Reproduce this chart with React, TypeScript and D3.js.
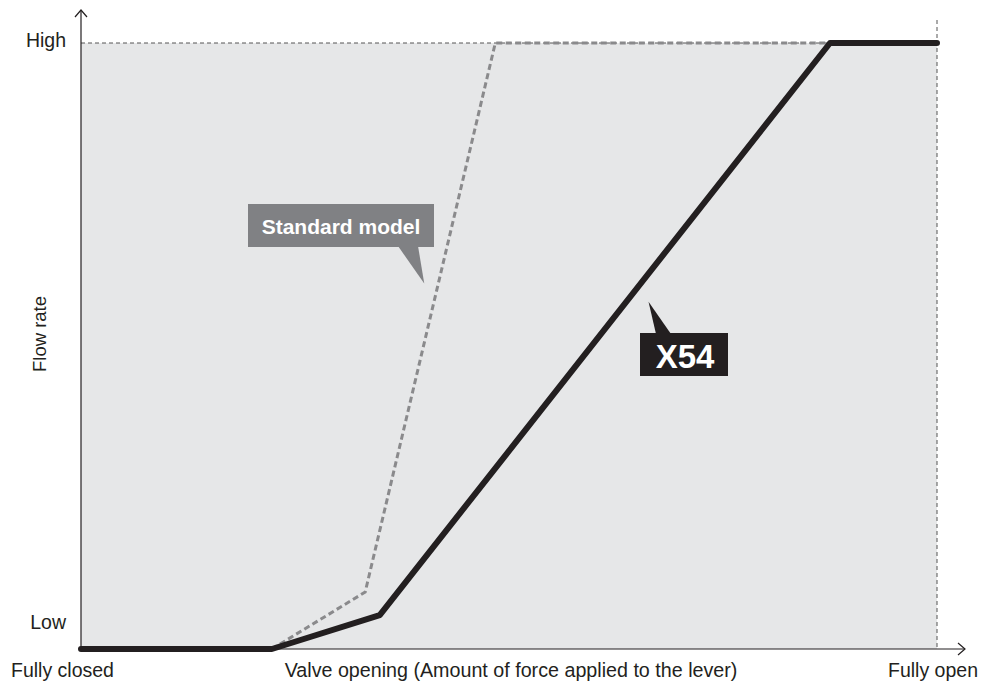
import * as React from 'react';
import {scaleLinear, line as d3Line} from 'd3';

// valve opening (0-100) vs flow rate (0-100)
const x54Opening = [0, 22.3, 34.9, 87.5, 100];
const x54Flow = [0, 0, 5.6, 100, 100];
const standardOpening = [22.3, 33.2, 48.4, 87.5];
const standardFlow = [0, 9.4, 100, 100];
const yTickLabels = ['Low', 'High'];
const yTickValues = [4.5, 100.5];
const xLabels = ['Fully closed', 'Valve opening (Amount of force applied to the lever)', 'Fully open'];

const W = 981;
const H = 684;
const margins = {left: 81, right: 44, top: 43, bottom: 35};
const font = '"Liberation Sans", Arial, sans-serif';
const ink = '#231f20';

export default function App() {
  const plotRight = W - margins.right;
  const plotBottom = H - margins.bottom;
  const x = scaleLinear().domain([0, 100]).range([margins.left, plotRight]);
  const y = scaleLinear().domain([0, 100]).range([plotBottom, margins.top]);

  const valueline = d3Line<[number, number]>()
    .x((d) => x(d[0]))
    .y((d) => y(d[1]));

  const x54 = x54Opening.map((o, i) => [o, x54Flow[i]] as [number, number]);
  const standard = standardOpening.map((o, i) => [o, standardFlow[i]] as [number, number]);

  // callout anchors, taken from points on each curve
  const stdTip: [number, number] = [x(40.1), y(60.3)];
  const xTip: [number, number] = [x(66.3), y(57.3)];

  return (
    <svg width={W} height={H} style={{position: 'absolute', left: 0, top: 0}} fontFamily={font}>
      <rect x={x(0)} y={y(100)} width={x(100) - x(0)} height={y(0) - y(100)} fill="#e6e7e8" />
      {/* reference lines */}
      <line x1={x(0)} x2={x(100)} y1={y(100)} y2={y(100)} stroke="#555" strokeWidth={1} strokeDasharray="4,3" />
      <line x1={x(100)} x2={x(100)} y1={20} y2={y(0)} stroke="#555" strokeWidth={1} strokeDasharray="4,3" />

      {/* axes */}
      <line x1={x(0)} x2={x(0)} y1={y(0)} y2={10} stroke={ink} strokeWidth={1.2} />
      <path d={`M${x(0) - 6},${17} L${x(0)},${10} L${x(0) + 6},${17}`} fill="none" stroke={ink} strokeWidth={1.2} />
      <line x1={x(0)} x2={965} y1={y(0)} y2={y(0)} stroke={ink} strokeWidth={1.2} />
      <path d={`M${958},${y(0) - 6} L${965},${y(0)} L${958},${y(0) + 6}`} fill="none" stroke={ink} strokeWidth={1.2} />

      <path d={valueline(standard) || ''} fill="none" stroke="#8a8a8c" strokeWidth={3} strokeDasharray="6,3.5" />
      <path d={valueline(x54) || ''} fill="none" stroke="#231f20" strokeWidth={6} strokeLinecap="round" strokeLinejoin="round" />

      {yTickLabels.map((t, i) => (
        <text key={t} x={66} y={y(yTickValues[i]) + 7} textAnchor="end" fontSize={19.5} fill={ink}>{t}</text>
      ))}
      <text transform={`translate(39, 334) rotate(-90)`} textAnchor="middle" dominantBaseline="central" fontSize={18.5} fill={ink}>Flow rate</text>

      <text x={11} y={677} fontSize={19.5} fill={ink}>{xLabels[0]}</text>
      <text x={511} y={677} textAnchor="middle" fontSize={19.7} fill={ink}>{xLabels[1]}</text>
      <text x={978} y={677} textAnchor="end" fontSize={19.5} fill={ink}>{xLabels[2]}</text>

      {/* Standard model callout */}
      <path d={`M398,246 L418,246 L${stdTip[0]},${stdTip[1]} Z`} fill="#808184" />
      <rect x={248} y={204} width={186} height={43} fill="#808184" />
      <text x={341} y={226} textAnchor="middle" dominantBaseline="central" fontSize={21} fontWeight="bold" fill="#fff">Standard model</text>

      {/* X54 callout */}
      <path d={`M656,334 L671,334 L${xTip[0]},${xTip[1]} Z`} fill="#231f20" />
      <rect x={640} y={333} width={88} height={43} fill="#231f20" />
      <text x={685} y={356} textAnchor="middle" dominantBaseline="central" fontSize={33} fontWeight="bold" fill="#fff">X54</text>
    </svg>
  );
}
